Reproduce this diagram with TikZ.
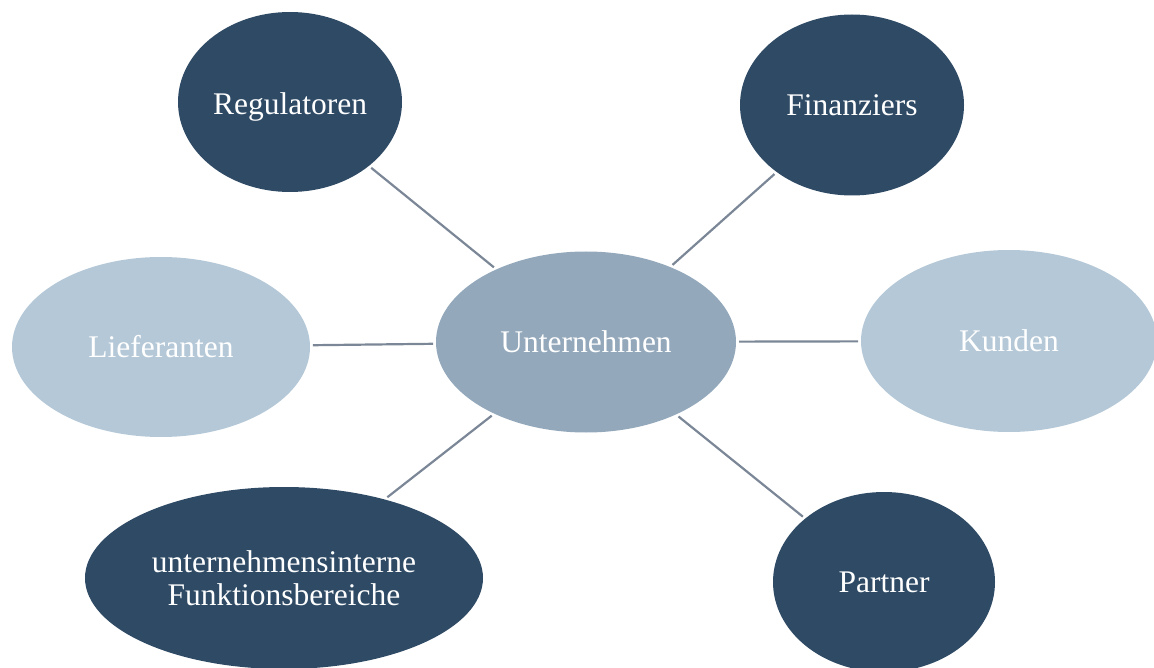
\documentclass[tikz,border=0pt]{standalone}
\usepackage{fontspec}
\setmainfont{Liberation Serif}
\usetikzlibrary{shapes.geometric}
\definecolor{darkblue}{HTML}{2E4A65}
\definecolor{midblue}{HTML}{93A8BB}
\definecolor{lightblue}{HTML}{B5C8D7}
\definecolor{linkcol}{HTML}{7B8797}
\tikzset{
  bubble/.style={ellipse, draw=none, inner sep=0pt, outer sep=3pt, text=white,
    font=\fontsize{31.5}{33}\selectfont, align=center},
  darkbub/.style={bubble, fill=darkblue},
  midbub/.style={bubble, fill=midblue},
  lightbub/.style={bubble, fill=lightblue},
  link/.style={draw=linkcol, line width=2.2pt}
}
\begin{document}
\begin{tikzpicture}[x=1pt,y=-1pt]
\useasboundingbox (0,0) rectangle (1154,668);
\clip (0,0) rectangle (1154,668);
\node[midbub, minimum width=300pt, minimum height=181pt] (u) at (586,342) {Unternehmen};
\node[darkbub, minimum width=224pt, minimum height=180pt, text height=33pt, text depth=7pt] (reg) at (290,102) {Regulatoren};
\node[darkbub, minimum width=224pt, minimum height=181pt] (fin) at (852,105) {Finanziers};
\node[lightbub, minimum width=298pt, minimum height=180pt] (lief) at (161,347) {Lieferanten};
\node[lightbub, minimum width=296pt, minimum height=182pt] (kund) at (1009,341) {Kunden};
\node[darkbub, minimum width=398pt, minimum height=182pt] (funk) at (284,578) {unternehmensinterne\\Funktionsbereiche};
\node[darkbub, minimum width=222pt, minimum height=180pt] (part) at (884,582) {Partner};
\draw[link] (reg) -- (u);
\draw[link] (fin) -- (u);
\draw[link] (lief) -- (u);
\draw[link] (kund) -- (u);
\draw[link] (funk) -- (u);
\draw[link] (part) -- (u);
\end{tikzpicture}
\end{document}
